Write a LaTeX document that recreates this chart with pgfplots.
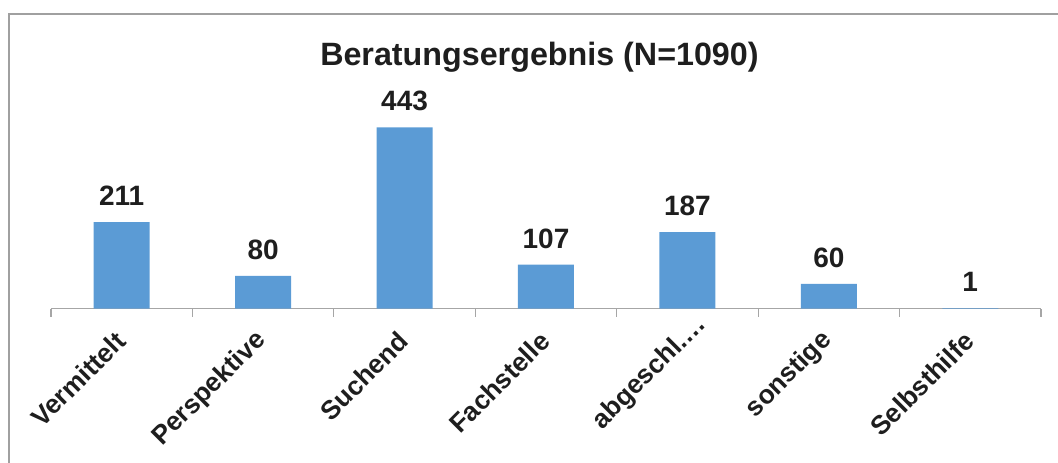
\documentclass[border=0pt]{standalone}
\usepackage{pgfplots}
\pgfplotsset{compat=1.18}
\usepackage{fontspec}
\setmainfont{Liberation Sans}
\definecolor{barblue}{RGB}{91,155,213}
\definecolor{axgray}{RGB}{166,166,166}
\definecolor{txt}{RGB}{30,30,30}
\definecolor{framegray}{RGB}{160,160,160}
\begin{document}
\begin{tikzpicture}
\useasboundingbox (0pt,0pt) rectangle (793.5pt,346.5pt);
\draw[framegray, line width=1.2pt] (6.75pt,-10pt) -- (6.75pt,336pt) -- (800pt,336pt);
\node[anchor=base, font=\bfseries\fontsize{24.2}{29}\selectfont, text=txt, inner sep=0pt] at (404.6pt,297.75pt) {Beratungsergebnis (N=1090)};
\begin{axis}[
  at={(38.25pt,115.125pt)}, anchor=south west,
  scale only axis, width=742.5pt, height=153.375pt,
  ymin=0, ymax=500, xmin=-0.5, xmax=6.5,
  hide y axis,
  axis x line=bottom,
  axis line style={axgray, line width=0.9pt, -},
  xtick={0,1,2,3,4,5,6},
  xticklabels={Vermittelt,Perspektive,Suchend,Fachstelle,{abgeschl.…\hspace*{-17pt}},sonstige,Selbsthilfe},
  major tick length=0pt,
  minor xtick={-0.5,0.5,1.5,2.5,3.5,4.5,5.5,6.5},
  minor tick length=6pt,
  tick align=outside,
  minor tick style={axgray, line width=0.9pt},
  xticklabel style={xshift=0pt, yshift=-20.25pt, rotate=45, anchor=east, font=\bfseries\fontsize{19.8}{23}\selectfont, text=txt, inner sep=1pt},
  clip=false,
  ybar, bar width=42pt,
  /pgf/number format/assume math mode=true,
  nodes near coords,
  every node near coord/.append style={anchor=base, yshift=12.3pt, inner sep=0pt, font=\bfseries\fontsize{21}{25}\selectfont, text=txt},
]
\addplot[fill=barblue, draw=none] coordinates {(0,211) (1,80) (2,443) (3,107) (4,187) (5,60) (6,1)};
\end{axis}
\end{tikzpicture}
\end{document}
